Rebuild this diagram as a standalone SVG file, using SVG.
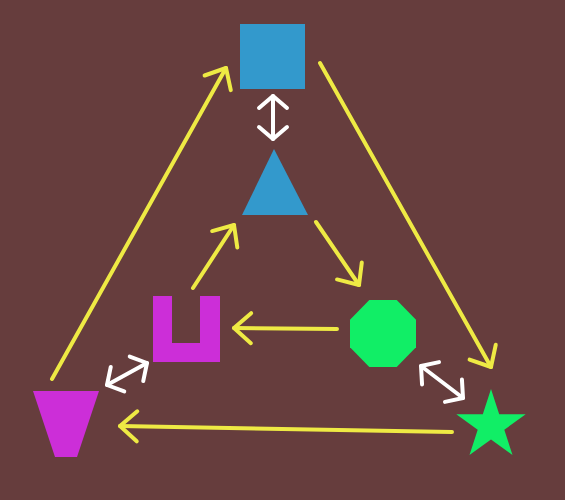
<svg xmlns="http://www.w3.org/2000/svg" width="565" height="500" viewBox="0 0 565 500">
<defs>
<style>
.y{stroke:#eeea44;stroke-width:4;fill:none;stroke-linecap:round;marker-end:url(#ya)}
.w{stroke:#ffffff;stroke-width:4;fill:none;stroke-linecap:round;marker-start:url(#wa);marker-end:url(#wa)}
.blue{fill:#3399cc}
.mag{fill:#cc2ed8}
.grn{fill:#11ee66}
</style>
<marker id="ya" markerUnits="userSpaceOnUse" orient="auto" refX="0" refY="0" markerWidth="40" markerHeight="40" viewBox="-20 -20 40 40" overflow="visible">
<path d="M-17,-15 L0,0 L-17,15" stroke="#eeea44" stroke-width="4" fill="none" stroke-linecap="round" stroke-linejoin="round"/>
</marker>
<marker id="wa" markerUnits="userSpaceOnUse" orient="auto-start-reverse" refX="0" refY="0" markerWidth="40" markerHeight="40" viewBox="-20 -20 40 40" overflow="visible">
<path d="M-12,-14 L0,0 L-12,14" stroke="#ffffff" stroke-width="4" fill="none" stroke-linecap="round" stroke-linejoin="round"/>
</marker>
</defs>
<rect width="565" height="500" fill="#663d3d"/>
<g id="connectors">
<line class="y" x1="52" y1="379" x2="226" y2="68"/>
<line class="y" x1="320" y1="63" x2="491" y2="367"/>
<line class="y" x1="452" y1="432" x2="120" y2="426"/>
<line class="y" x1="193" y1="288" x2="234" y2="225"/>
<line class="y" x1="316" y1="222" x2="359" y2="285"/>
<line class="y" x1="337" y1="329" x2="234" y2="328"/>
<line class="w" x1="273" y1="96" x2="273" y2="139"/>
<line class="w" x1="107" y1="385" x2="147" y2="363"/>
<line class="w" x1="421" y1="366" x2="463" y2="398"/>
</g>
<g id="square"><rect class="blue" x="240" y="24" width="65" height="65"/></g>
<g id="triangle"><polygon class="blue" points="274,149 242,215 308,215"/></g>
<g id="ushape"><path class="mag" d="M153,296 H172 V343 H200 V296 H220 V362 H153 Z"/></g>
<g id="trapezoid"><polygon class="mag" points="33,391 99,391 77,457 55,457"/></g>
<g id="octagon"><polygon class="grn" points="369.3,300 396.7,300 416,319.8 416,347.2 396.7,367 369.3,367 350,347.2 350,319.8"/></g>
<g id="star"><polygon class="grn" points="491,389 499.2,414.2 525.7,414.2 504.3,429.8 512.5,455 491,439.5 469.5,455 477.7,429.8 456.3,414.2 482.8,414.2"/></g>
</svg>
